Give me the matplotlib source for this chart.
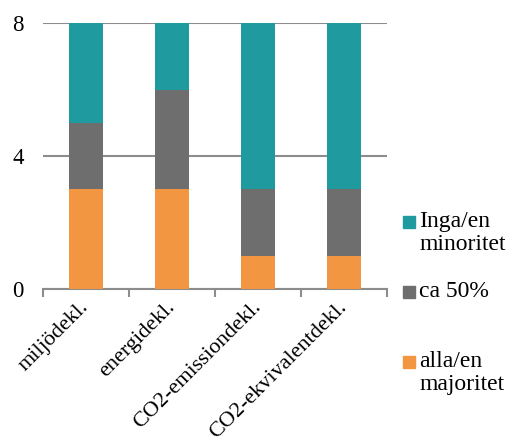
import numpy as np
import matplotlib.pyplot as plt
from matplotlib.patches import Rectangle

plt.rcParams['font.family'] = ['Liberation Serif', 'DejaVu Serif']

# Declarations and counts per answer group
categories = ['miljödekl.', 'energidekl.', 'CO2-emissiondekl.', 'CO2-ekvivalentdekl.']
alla_majoritet = [3, 3, 1, 1]
ca_50 = [2, 3, 2, 2]
inga_minoritet = [3, 2, 5, 5]

series = [
    ('alla/en\nmajoritet', alla_majoritet, '#F39641'),
    ('ca 50%', ca_50, '#6E6E6E'),
    ('Inga/en\nminoritet', inga_minoritet, '#1F9B9F'),
]

fig = plt.figure(figsize=(5.08, 4.43), dpi=100)
ax = fig.add_axes([43 / 508, 1 - 289 / 443, 344 / 508, 266 / 443])

x = np.arange(len(categories))
bottom = np.zeros(len(categories))
for label, vals, color in series:
    ax.bar(x, vals, width=0.4, bottom=bottom, color=color, zorder=3)
    bottom += np.array(vals)

ax.set_xlim(-0.5, len(categories) - 0.5)
ax.set_ylim(0, 8)
ax.set_yticks([0, 4, 8])
ax.yaxis.grid(True, color='#8C8C8C', linewidth=1.5, zorder=0)
ax.tick_params(axis='y', length=0, labelsize=16.5, pad=14)
for s in ['top', 'right', 'left']:
    ax.spines[s].set_visible(False)
ax.spines['bottom'].set_color('#8C8C8C')
ax.spines['bottom'].set_linewidth(1.5)

ax.set_xticks(x)
ax.set_xticklabels(categories, rotation=45, ha='right', va='center',
                   rotation_mode='anchor', fontsize=16)
ax.tick_params(axis='x', which='major', length=0, pad=11)
ax.set_xticks(np.arange(len(categories) + 1) - 0.5, minor=True)
ax.tick_params(axis='x', which='minor', length=6, width=1.5, color='#8C8C8C')

# legend drawn by hand on the right
legend_rows = [
    (series[2], 222),
    (series[1], 292),
    (series[0], 362),
]
for (label, vals, color), ytop in legend_rows:
    fig.patches.append(Rectangle((403 / 508, 1 - (ytop + 6) / 443), 12 / 508, 12 / 443,
                                 transform=fig.transFigure, color=color))
    fig.text(419 / 508, 1 - (ytop - 11) / 443, label, fontsize=17, va='top', ha='left',
             linespacing=1.1)

fig.savefig('out.png', dpi=100)
